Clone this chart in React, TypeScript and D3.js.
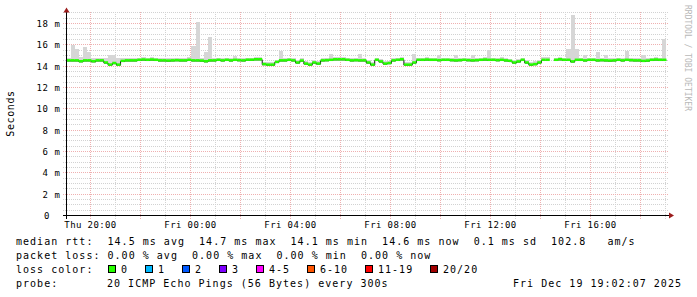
import React from 'react';
import * as d3 from 'd3';

// ---------- data ----------
const START = new Date(2025, 11, 18, 19, 2, 7);
const END = new Date(2025, 11, 19, 19, 2, 7);
const STEP_MINUTES = 10;

const median: (number | null)[] = [
  14.5, 14.5, 14.5, 14.42, 14.5, 14.5, 14.42, 14.5, 14.5, 14.3,
  14.1, 14.25, 14.1, 14.45, 14.5, 14.5, 14.5, 14.55, 14.58, 14.55,
  14.58, 14.55, 14.5, 14.5, 14.48, 14.5, 14.52, 14.5, 14.5, 14.55,
  14.5, 14.5, 14.48, 14.42, 14.5, 14.5, 14.55, 14.5, 14.55, 14.5,
  14.55, 14.52, 14.5, 14.56, 14.56, 14.6, 14.6, 14.15, 14.1, 14.1,
  14.35, 14.5, 14.5, 14.55, 14.5, 14.3, 14.48, 14.2, 14.1, 14.3,
  14.2, 14.5, 14.52, 14.55, 14.6, 14.6, 14.6, 14.55, 14.5, 14.52,
  14.5, 14.5, 14.3, 14.1, 14.55, 14.4, 14.2, 14.25, 14.5, 14.55,
  14.6, 14.1, 14.1, 14.3, 14.55, 14.55, 14.58, 14.55, 14.55, 14.52,
  14.55, 14.55, 14.52, 14.5, 14.52, 14.55, 14.52, 14.5, 14.52, 14.55,
  14.58, 14.55, 14.55, 14.52, 14.55, 14.5, 14.45, 14.3, 14.4, 14.55,
  14.3, 14.1, 14.15, 14.3, 14.55, 14.55, null, 14.55, 14.6, 14.55,
  14.55, 14.4, 14.55, 14.55, 14.5, 14.55, 14.55, 14.5, 14.52, 14.5,
  14.48, 14.5, 14.55, 14.5, 14.55, 14.52, 14.5, 14.5, 14.45, 14.48,
  14.55, 14.58, 14.55, 14.55,
];

const smokeTop: (number | null)[] = [
  14.8, 16.0, 15.6, 14.85, 15.8, 15.3, 14.8, 14.75, 14.8, 14.75,
  15.0, 15.0, 14.8, 14.8, 14.75, 14.8, 14.75, 14.8, 14.85, 14.8,
  14.85, 14.8, 14.75, 14.75, 14.8, 14.8, 14.8, 14.75, 14.8, 14.85,
  15.9, 18.1, 14.8, 15.3, 16.7, 14.8, 14.8, 14.75, 14.8, 14.75,
  14.95, 14.8, 14.75, 14.8, 14.8, 14.85, 14.85, 14.4, 14.35, 14.35,
  14.6, 15.4, 14.75, 14.8, 14.75, 14.6, 14.75, 14.5, 14.4, 14.55,
  14.5, 14.75, 14.8, 15.1, 14.85, 14.85, 14.85, 14.8, 14.75, 14.8,
  15.1, 14.75, 14.55, 14.4, 14.8, 14.65, 14.45, 14.5, 14.75, 14.8,
  14.85, 14.4, 14.4, 15.15, 14.8, 14.8, 14.85, 14.8, 14.8, 15.0,
  14.8, 14.8, 14.8, 15.0, 14.8, 14.8, 14.8, 15.0, 14.8, 14.8,
  14.85, 15.5, 14.8, 14.8, 14.9, 14.75, 14.7, 14.55, 14.65, 14.8,
  14.55, 14.4, 14.45, 14.55, 14.9, 14.9, null, 14.8, 14.85, 14.8,
  15.6, 18.8, 15.6, 14.8, 15.0, 14.8, 14.8, 15.35, 14.8, 15.05,
  14.75, 14.8, 14.8, 14.75, 15.4, 14.8, 14.75, 14.75, 15.05, 14.75,
  14.8, 14.85, 14.8, 16.5,
];

const yTickValues = [0, 2, 4, 6, 8, 10, 12, 14, 16, 18];
const yTickLabels = ['0', '2 m', '4 m', '6 m', '8 m', '10 m', '12 m', '14 m', '16 m', '18 m'];
const xTickLabels = ['Thu 20:00', 'Fri 00:00', 'Fri 04:00', 'Fri 08:00', 'Fri 12:00', 'Fri 16:00'];

const legendLine1 = 'median rtt:  14.5 ms avg  14.7 ms max  14.1 ms min  14.6 ms now  0.1 ms sd  102.8   am/s';
const legendLine2 = 'packet loss: 0.00 % avg  0.00 % max  0.00 % min  0.00 % now';
const lossTitle = 'loss color:';
const lossLabels = ['0', '1', '2', '3', '4-5', '6-10', '11-19', '20/20'];
const lossColors = ['#26ff00', '#00b8ff', '#0059ff', '#7e00ff', '#ff00ff', '#ff5500', '#ff0000', '#a10000'];
const probeTitle = 'probe:';
const probeText = '20 ICMP Echo Pings (56 Bytes) every 300s';
const dateText = 'Fri Dec 19 19:02:07 2025';
const watermark = 'RRDTOOL / TOBI OETIKER';
const yAxisTitle = 'Seconds';

// ---------- layout ----------
const W = 697;
const H = 297;
const X0 = 66.4;
const X1 = 666.4;
const Y0 = 215.5;
const PX_PER_UNIT = 10.667;
const YMAX = 19.2;

const mono = '"DejaVu Sans Mono", monospace';

export default function App() {
  const x = d3.scaleTime().domain([START, END]).range([X0, X1]);
  const y = d3.scaleLinear().domain([0, YMAX]).range([Y0, Y0 - YMAX * PX_PER_UNIT]);

  const times = median.map((_, i) => d3.timeMinute.offset(START, i * STEP_MINUTES));
  const timeEnd = (i: number) => d3.timeMinute.offset(START, (i + 1) * STEP_MINUTES);

  const snap = (v: number) => Math.floor(v) + 0.5;

  const hMinor: number[] = [];
  for (let v = 0.5; v <= 19.01; v += 0.5) {
    if (Math.abs(v % 2) > 1e-6) hMinor.push(v);
  }
  const hMajor = yTickValues.filter((v) => v > 0);
  const hours = d3.timeHour.range(START, END);
  const vMinor = hours.filter((d) => d.getHours() % 2 !== 0);
  const vMajor = hours.filter((d) => d.getHours() % 2 === 0);
  const vLabel = hours.filter((d) => d.getHours() % 4 === 0);

  const plotTop = 12;

  const pts: { t: Date; v: number | null }[] = median.map((v, i) => ({ t: times[i], v }));
  pts.push({ t: END, v: median[median.length - 1] });
  const stepLine = d3
    .line<{ t: Date; v: number | null }>()
    .defined((d) => d.v !== null)
    .x((d) => x(d.t))
    .y((d) => y(d.v as number))
    .curve(d3.curveStepAfter);

  const charW = 7.0;
  const sqPositions: number[] = [];
  let cx = 108;
  lossLabels.forEach((l) => {
    sqPositions.push(cx);
    cx += 13 + l.length * charW + 17;
  });

  const minorColor = '#d2d2d2';
  const majorColor = '#efb0b0';

  return (
    <svg
      width={W}
      height={H}
      style={{ position: 'absolute', left: 0, top: 0, background: '#ffffff' }}
      shapeRendering="crispEdges"
    >
      <rect x={0} y={0} width={W} height={H} fill="#ffffff" />

      {hMinor.map((v) => (
        <line key={'hm' + v} x1={63} x2={668} y1={snap(y(v))} y2={snap(y(v))} stroke={minorColor} strokeDasharray="1,1" />
      ))}
      {vMinor.map((d) => (
        <line key={'vm' + d.getTime()} x1={snap(x(d))} x2={snap(x(d))} y1={plotTop} y2={219} stroke={minorColor} strokeDasharray="1,1" />
      ))}
      {hMajor.map((v) => (
        <line key={'hM' + v} x1={63} x2={668} y1={snap(y(v))} y2={snap(y(v))} stroke={majorColor} strokeDasharray="1,1" />
      ))}
      {vMajor.map((d) => (
        <line key={'vM' + d.getTime()} x1={snap(x(d))} x2={snap(x(d))} y1={plotTop} y2={219} stroke={majorColor} strokeDasharray="1,1" />
      ))}

      {smokeTop.map((top, i) => {
        const m = median[i];
        if (top === null || m === null) return null;
        const x0 = x(times[i]);
        const x1 = x(timeEnd(i));
        const yt = y(top);
        const yb = y(m - 0.1);
        return <rect key={'s' + i} x={x0} y={yt} width={x1 - x0} height={Math.max(0, yb - yt)} fill="#d6d6d6" />;
      })}

      <path d={stepLine(pts) || ''} fill="none" stroke="#111111" strokeWidth={1} shapeRendering="auto" />
      {median.map((v, i) => {
        if (v === null) return null;
        return (
          <line
            key={'g' + i}
            x1={x(times[i])}
            x2={x(timeEnd(i))}
            y1={y(v) - 0.5}
            y2={y(v) - 0.5}
            stroke={lossColors[0]}
            strokeWidth={2.5}
            shapeRendering="auto"
          />
        );
      })}

      <line x1={63} x2={670} y1={Y0} y2={Y0} stroke="#000" />
      <line x1={66.5} x2={66.5} y1={219} y2={11} stroke="#000" />
      <path d="M66.5,7.5 L63.5,12.5 L69.5,12.5 Z" fill="#9b1c1c" shapeRendering="auto" />
      <path d="M674,215.5 L669,212.5 L669,218.5 Z" fill="#9b1c1c" shapeRendering="auto" />

      {yTickValues.map((v, i) => (
        <text
          key={'yl' + v}
          x={v === 0 ? 50 : 60.5}
          y={snap(y(v)) + 3.5}
          textAnchor="end"
          fontFamily={mono}
          fontSize={9}
          letterSpacing={0.6}
          fill="#000"
          xmlSpace="preserve"
        >
          {yTickLabels[i]}
        </text>
      ))}

      {vLabel.map((d, i) => (
        <text
          key={'xl' + i}
          x={snap(x(d))}
          y={228}
          textAnchor="middle"
          fontFamily={mono}
          fontSize={9}
          letterSpacing={0.4}
          fill="#000"
        >
          {xTickLabels[i]}
        </text>
      ))}

      <text
        transform="translate(14,113.5) rotate(-90)"
        textAnchor="middle"
        fontFamily={mono}
        fontSize={10}
        letterSpacing={0.6}
        fill="#000"
      >
        {yAxisTitle}
      </text>

      <text transform="translate(685,5) rotate(90)" fontFamily={mono} fontSize={8} fill="#b8b8b8">
        {watermark}
      </text>

      <g fontFamily={mono} fontSize={10} letterSpacing={1.02} fill="#000">
        <text x={16} y={245} xmlSpace="preserve">{legendLine1}</text>
        <text x={16} y={259} xmlSpace="preserve">{legendLine2}</text>
        <text x={16} y={273} xmlSpace="preserve">{lossTitle}</text>
        {lossLabels.map((l, i) => (
          <g key={'lg' + i}>
            <rect x={sqPositions[i] + 0.5} y={265.5} width={7} height={7} fill={lossColors[i]} stroke="#000" />
            <text x={sqPositions[i] + 13} y={273} xmlSpace="preserve">{l}</text>
          </g>
        ))}
        <text x={16} y={287} xmlSpace="preserve">{probeTitle}</text>
        <text x={107} y={287} xmlSpace="preserve">{probeText}</text>
        <text x={682} y={287} textAnchor="end" xmlSpace="preserve">{dateText}</text>
      </g>
    </svg>
  );
}
